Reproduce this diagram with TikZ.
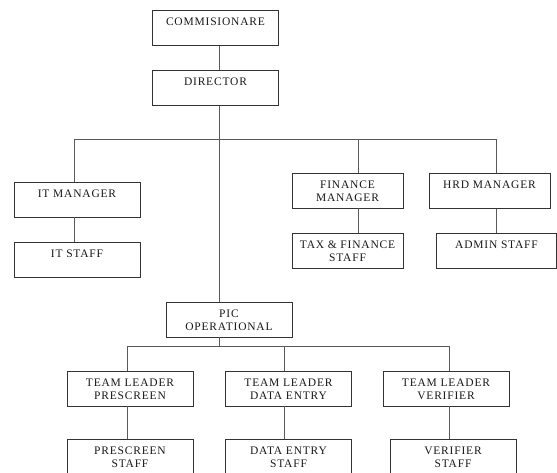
\documentclass[tikz,border=0pt]{standalone}
\usepackage{fontspec}
\setmainfont[LetterSpace=7]{Liberation Serif}

\begin{document}
\begin{tikzpicture}[x=1pt,y=-1pt,
	box/.style={draw=black!80, line width=0.8pt, inner sep=0pt, minimum width=126pt,
		text height=15pt, text depth=20pt, align=center,
		font=\fontsize{11.5}{13}\selectfont, text=black!90},
	twoline/.style={box, text height=28pt, text depth=7pt},
	link/.style={draw=black!65, line width=0.9pt}]
	\useasboundingbox (0,0) rectangle (557,472);
	\clip (0,0) rectangle (557,472);

	\node[box] (comm) at (215.5,28) {COMMISIONARE};
	\node[box] (dir) at (215.5,88) {DIRECTOR};
	\node[box] (itm) at (77,199.5) {IT MANAGER};
	\node[box] (its) at (77,259.5) {IT STAFF};
	\node[twoline, minimum width=111pt] (fin) at (347.5,190.5) {FINANCE\\MANAGER};
	\node[twoline, minimum width=111pt] (tax) at (347.5,251) {TAX \& FINANCE\\STAFF};
	\node[box, minimum width=121pt] (hrd) at (489.5,191) {HRD MANAGER};
	\node[box, minimum width=120pt] (adm) at (496.5,250.5) {ADMIN STAFF};
	\node[twoline] (pic) at (229,319.5) {PIC\\OPERATIONAL};
	\node[twoline] (tlp) at (130,388.5) {TEAM LEADER\\PRESCREEN};
	\node[twoline] (tld) at (288.5,388.5) {TEAM LEADER\\DATA ENTRY};
	\node[twoline] (tlv) at (446,388.5) {TEAM LEADER\\VERIFIER};
	\node[twoline] (psf) at (130,456.5) {PRESCREEN\\STAFF};
	\node[twoline] (dsf) at (288.5,456.5) {DATA ENTRY\\STAFF};
	\node[twoline] (vsf) at (453,456.5) {VERIFIER\\STAFF};

	% main line
	\coordinate (hub) at (219,139);
	\coordinate (split) at (219,346);
	\draw[link] (comm.south -| hub) -- (dir.north -| hub);
	\draw[link] (dir.south -| hub) -- (pic.north -| hub);
	\draw[link] (pic.south -| split) -- (split);

	% managers
	\foreach \up/\down/\x in {itm/its/74, fin/tax/358, hrd/adm/496}{
		\coordinate (\up-top) at (\x,139);
		\draw[link] (\up-top) -- (\up.north -| \up-top);
		\draw[link] (\up.south -| \up-top) -- (\down.north -| \up-top);
	}
	\draw[link] (itm-top) -- (hrd-top);

	% team leaders
	\foreach \up/\down/\x in {tlp/psf/127, tld/dsf/284, tlv/vsf/449}{
		\coordinate (\up-top) at (\x,346);
		\draw[link] (\up-top) -- (\up.north -| \up-top);
		\draw[link] (\up.south -| \up-top) -- (\down.north -| \up-top);
	}
	\draw[link] (tlp-top) -- (tlv-top);
\end{tikzpicture}
\end{document}
